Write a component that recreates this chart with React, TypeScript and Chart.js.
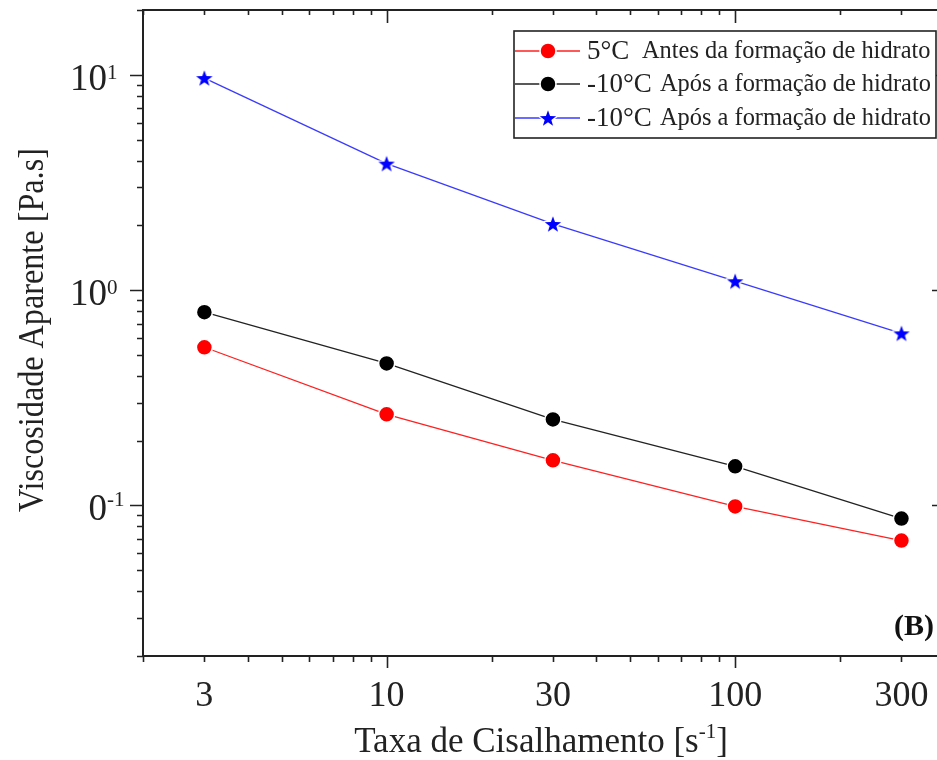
import React, { useEffect, useRef } from 'react';
import { Chart, registerables } from 'chart.js';

Chart.register(...registerables);

// ---------- data ----------
const shearRates = [3, 10, 30, 100, 300];
const visc5CBefore = [0.543, 0.265, 0.162, 0.099, 0.0687];
const viscMinus10After = [0.79, 0.457, 0.251, 0.152, 0.087];
const viscMinus10AfterStar = [9.66, 3.87, 2.03, 1.1, 0.63];

const legendPrefixes = ['5°C', '-10°C', '-10°C'];
const legendTexts = [
  'Antes da formação de hidrato',
  'Após a formação de hidrato',
  'Após a formação de hidrato',
];
const seriesColors = ['#ff0000', '#000000', '#0000ff'];
const lineColors = ['#ff2020', '#222222', '#3a3aff'];

const xTickLabels = [3, 10, 30, 100, 300];
const yTickValues = [10, 1, 0.1];
const yTickBases = ['10', '10', '0'];
const yTickExps = ['1', '0', '-1'];

const xTitleMain = 'Taxa de Cisalhamento [s';
const xTitleSup = '-1';
const xTitleEnd = ']';
const yTitle = 'Viscosidade Aparente [Pa.s]';
const panelLabel = '(B)';

const X_MIN = 2;
const X_MAX = 400;
const Y_MIN = 0.02;
const Y_MAX = 20;

const CANVAS_W = 946;
const CANVAS_H = 760;

const SERIF = '"Liberation Serif", "Times New Roman", Times, serif';

function logTicks(min: number, max: number): number[] {
  const out: number[] = [];
  for (let e = -4; e <= 5; e++) {
    for (let m = 1; m <= 9; m++) {
      const v = m * Math.pow(10, e);
      if (v >= min * 0.999 && v <= max * 1.001) out.push(v);
    }
  }
  return out;
}
function isDecade(v: number) {
  const l = Math.log10(v);
  return Math.abs(l - Math.round(l)) < 1e-6;
}

function makeStar(color: string) {
  const size = 24;
  const outer = 8.6;
  const inner = 3.5;
  const c = document.createElement('canvas');
  c.width = size;
  c.height = size;
  const ctx = c.getContext('2d')!;
  ctx.beginPath();
  for (let i = 0; i < 10; i++) {
    const r = i % 2 === 0 ? outer : inner;
    const a = -Math.PI / 2 + (i * Math.PI) / 5;
    const px = size / 2 + r * Math.cos(a);
    const py = size / 2 + 0.8 + r * Math.sin(a);
    if (i === 0) ctx.moveTo(px, py);
    else ctx.lineTo(px, py);
  }
  ctx.closePath();
  ctx.lineJoin = 'round';
  ctx.lineWidth = 3;
  ctx.strokeStyle = '#ffffff';
  ctx.stroke();
  ctx.fillStyle = color;
  ctx.fill();
  return c;
}

const axesPlugin = {
  id: 'customAxes',
  afterDraw(chart: any) {
    const ctx: CanvasRenderingContext2D = chart.ctx;
    const { left, right, top, bottom } = chart.chartArea;
    const xs = chart.scales.x;
    const ys = chart.scales.y;
    ctx.save();
    ctx.strokeStyle = '#222';
    ctx.lineWidth = 2;
    ctx.beginPath();
    ctx.rect(left, top, right - left, bottom - top);
    ctx.stroke();

    ctx.lineWidth = 1.6;
    ctx.beginPath();
    for (const v of logTicks(X_MIN, X_MAX)) {
      const px = Math.round(xs.getPixelForValue(v)) + 0.5;
      const len = isDecade(v) ? 12 : 6;
      ctx.moveTo(px, bottom);
      ctx.lineTo(px, bottom + len);
      ctx.moveTo(px, top);
      ctx.lineTo(px, top + (isDecade(v) ? 13 : 5));
    }
    for (const v of logTicks(Y_MIN, Y_MAX)) {
      const py = Math.round(ys.getPixelForValue(v)) + 0.5;
      const len = isDecade(v) ? 13 : 6;
      ctx.moveTo(left - len, py);
      ctx.lineTo(left, py);
      ctx.moveTo(right, py);
      ctx.lineTo(right - len, py);
    }
    ctx.stroke();

    // x tick labels
    ctx.fillStyle = '#222';
    ctx.font = `36px ${SERIF}`;
    ctx.textAlign = 'center';
    ctx.textBaseline = 'alphabetic';
    for (const v of xTickLabels) {
      ctx.fillText(String(v), xs.getPixelForValue(v), bottom + 50);
    }

    // y tick labels with superscripts
    const supLeft = left - 36;
    yTickValues.forEach((v, i) => {
      const py = ys.getPixelForValue(v);
      ctx.font = `37px ${SERIF}`;
      ctx.textAlign = 'right';
      ctx.fillText(yTickBases[i], supLeft, py + 15);
      ctx.font = `21px ${SERIF}`;
      ctx.textAlign = 'left';
      ctx.fillText(yTickExps[i], supLeft, py + (yTickExps[i].length > 1 ? 1 : 4));
    });

    // x title
    const xBase = 752;
    ctx.font = `35px ${SERIF}`;
    const w1 = ctx.measureText(xTitleMain).width;
    const w3 = ctx.measureText(xTitleEnd).width;
    ctx.font = `21px ${SERIF}`;
    const w2 = ctx.measureText(xTitleSup).width;
    const total = w1 + w2 + w3;
    let sx = (left + right) / 2 - 3 - total / 2;
    ctx.textAlign = 'left';
    ctx.font = `35px ${SERIF}`;
    ctx.fillText(xTitleMain, sx, xBase);
    sx += w1;
    ctx.font = `21px ${SERIF}`;
    ctx.fillText(xTitleSup, sx, xBase - 14);
    sx += w2;
    ctx.font = `35px ${SERIF}`;
    ctx.fillText(xTitleEnd, sx, xBase);

    // y title
    ctx.save();
    ctx.translate(43, (top + bottom) / 2 - 3);
    ctx.rotate(-Math.PI / 2);
    ctx.scale(0.92, 1);
    ctx.font = `35px ${SERIF}`;
    ctx.textAlign = 'center';
    ctx.fillText(yTitle, 0, 0);
    ctx.restore();

    // panel label
    ctx.font = `bold 30px ${SERIF}`;
    ctx.textAlign = 'right';
    ctx.fillStyle = '#111';
    ctx.fillText(panelLabel, 934, 635);
    ctx.restore();
  },
};

function makeLegendPlugin(star: HTMLCanvasElement) {
  return {
    id: 'customLegend',
    afterDraw(chart: any) {
      const ctx: CanvasRenderingContext2D = chart.ctx;
      const bx = 514;
      const by = 31;
      const bw = 422;
      const bh = 107;
      ctx.save();
      ctx.fillStyle = '#fff';
      ctx.fillRect(bx, by, bw, bh);
      ctx.strokeStyle = '#222';
      ctx.lineWidth = 1.6;
      ctx.strokeRect(bx, by, bw, bh);
      const rows = [51, 84, 118];
      const restX = [642, 660, 660];
      rows.forEach((ry, i) => {
        ctx.strokeStyle = lineColors[i];
        ctx.lineWidth = 1.3;
        ctx.beginPath();
        ctx.moveTo(bx + 1, ry);
        ctx.lineTo(580, ry);
        ctx.stroke();
        if (i === 2) {
          ctx.drawImage(star, 548 - star.width / 2, ry - star.height / 2);
        } else {
          ctx.beginPath();
          ctx.arc(548, ry, 8, 0, Math.PI * 2);
          ctx.fillStyle = seriesColors[i];
          ctx.fill();
          ctx.strokeStyle = '#fff';
          ctx.lineWidth = 1.5;
          ctx.stroke();
        }
        ctx.fillStyle = '#222';
        ctx.textAlign = 'left';
        ctx.textBaseline = 'middle';
        ctx.font = `27px ${SERIF}`;
        ctx.fillText(legendPrefixes[i], 587, ry + 1);
        ctx.font = `24.4px ${SERIF}`;
        ctx.fillText(legendTexts[i], restX[i], ry + 1);
      });
      ctx.restore();
    },
  };
}

export default function App() {
  const ref = useRef<HTMLCanvasElement>(null);
  useEffect(() => {
    if (!ref.current) return;
    const star = makeStar('#0000ff');
    const series = [visc5CBefore, viscMinus10After, viscMinus10AfterStar];
    const datasets = series.map((vals, i) => ({
      label: `${legendPrefixes[i]} ${legendTexts[i]}`,
      data: shearRates.map((x, j) => ({ x, y: vals[j] })),
      borderColor: lineColors[i],
      backgroundColor: seriesColors[i],
      pointBackgroundColor: seriesColors[i],
      pointBorderColor: '#ffffff',
      pointBorderWidth: 1.5,
      pointRadius: 8,
      pointStyle: i === 2 ? (star as any) : 'circle',
      borderWidth: 1.3,
      tension: 0,
    }));
    const chart = new Chart(ref.current, {
      type: 'line',
      data: { datasets },
      options: {
        animation: false,
        responsive: false,
        maintainAspectRatio: false,
        devicePixelRatio: 1,
        layout: { autoPadding: false, padding: { top: 10, right: 1, left: 0, bottom: 0 } },
        plugins: { legend: { display: false }, tooltip: { enabled: false } },
        scales: {
          x: {
            type: 'logarithmic',
            min: X_MIN,
            max: X_MAX,
            grid: { display: false },
            border: { display: false },
            ticks: { display: false },
            afterFit(s: any) {
              s.height = 104;
            },
          },
          y: {
            type: 'logarithmic',
            min: Y_MIN,
            max: Y_MAX,
            grid: { display: false },
            border: { display: false },
            ticks: { display: false },
            afterFit(s: any) {
              s.width = 143;
            },
          },
        },
      } as any,
      plugins: [axesPlugin, makeLegendPlugin(star)],
    });
    return () => chart.destroy();
  }, []);
  return (
    <div
      style={{
        position: 'absolute',
        left: 0,
        top: 0,
        width: 937,
        height: 760,
        overflow: 'hidden',
        background: '#fff',
      }}
    >
      <div style={{ width: CANVAS_W, height: CANVAS_H }}>
        <canvas
          ref={ref}
          width={CANVAS_W}
          height={CANVAS_H}
          style={{ display: 'block', width: CANVAS_W, height: CANVAS_H }}
        />
      </div>
    </div>
  );
}
